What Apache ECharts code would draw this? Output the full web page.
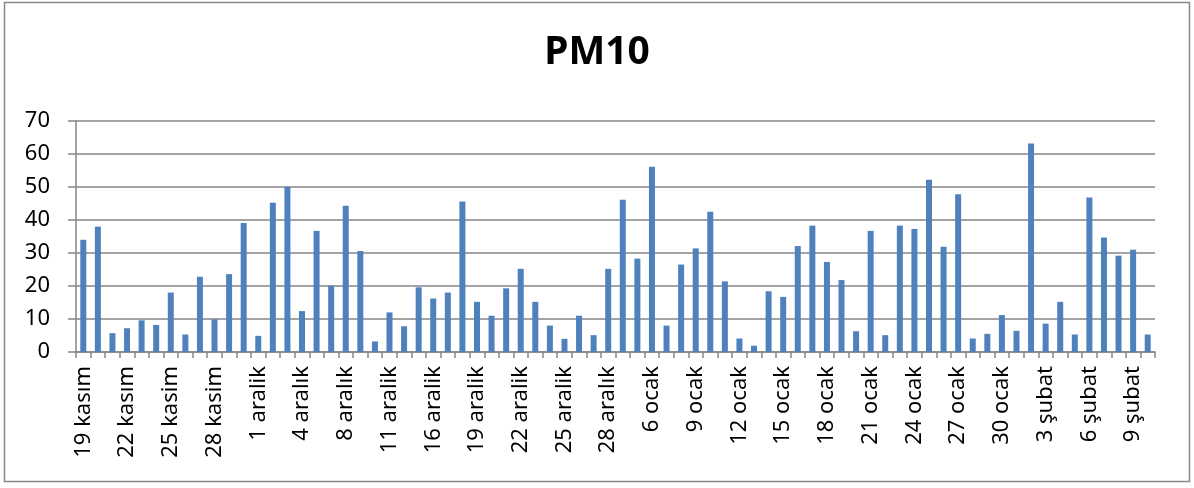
<!DOCTYPE html>
<html>
<head>
<meta charset="utf-8">
<script src="https://cdn.jsdelivr.net/npm/echarts@6/dist/echarts.min.js"></script>
<style>
    html, body { margin: 0; padding: 0; background: #fff; }
    #chart { width: 1194px; height: 488px; }
</style>
</head>
<body>
<div id="chart"></div>
<script>
var dates = [
    '19 kasım', '20 kasım', '21 kasım', '22 kasım', '23 kasım', '24 kasım',
    '25 kasim', '26 kasim', '27 kasim', '28 kasim', '29 kasim', '30 kasim',
    '1 aralik', '2 aralık', '3 aralık', '4 aralık', '5 aralık', '7 aralık',
    '8 aralık', '9 aralik', '10 aralik', '11 aralik', '12 aralik', '15 aralik',
    '16 aralik', '17 aralik', '18 aralik', '19 aralik', '20 aralik', '21 aralik',
    '22 aralik', '23 aralik', '24 aralik', '25 aralik', '26 aralik', '27 aralik',
    '28 aralık', '29 aralık', '5 ocak', '6 ocak', '7 ocak', '8 ocak',
    '9 ocak', '10 ocak', '11 ocak', '12 ocak', '13 ocak', '14 ocak',
    '15 ocak', '16 ocak', '17 ocak', '18 ocak', '19 ocak', '20 ocak',
    '21 ocak', '22 ocak', '23 ocak', '24 ocak', '25 ocak', '26 ocak',
    '27 ocak', '28 ocak', '29 ocak', '30 ocak', '31 ocak', '2 şubat',
    '3 şubat', '4 şubat', '5 şubat', '6 şubat', '7 şubat', '8 şubat',
    '9 şubat', '10 şubat'
];
var pm10 = [
    34.0, 38.0, 5.7, 7.2, 9.6, 8.2, 18.0, 5.3, 22.8, 9.9,
    23.6, 39.1, 4.9, 45.2, 50.1, 12.4, 36.7, 20.1, 44.3, 30.6,
    3.2, 12.0, 7.8, 19.6, 16.2, 18.0, 45.6, 15.2, 11.0, 19.3,
    25.2, 15.2, 8.0, 4.0, 11.0, 5.1, 25.2, 46.1, 28.3, 56.1,
    8.0, 26.5, 31.4, 42.5, 21.4, 4.1, 1.9, 18.4, 16.7, 32.1,
    38.3, 27.3, 21.8, 6.3, 36.7, 5.1, 38.3, 37.3, 52.2, 31.9,
    47.8, 4.1, 5.5, 11.2, 6.4, 63.2, 8.6, 15.2, 5.3, 46.8,
    34.7, 29.2, 31.0, 5.3
];
var yTicks = { min: 0, max: 70, interval: 10 };

var chart = echarts.init(document.getElementById('chart'));
var font = '"Noto Sans", "Liberation Sans", sans-serif';
var option = {
    backgroundColor: '#fff',
    animation: false,
    title: {
        text: 'PM10',
        left: 'center',
        top: 28,
        textStyle: { fontFamily: font, fontSize: 39, fontWeight: 'bold', color: '#000' }
    },
    graphic: [{
        type: 'rect',
        shape: { x: 4.5, y: 2.5, width: 1185, height: 479 },
        style: { fill: 'none', stroke: '#898989', lineWidth: 1.5 },
        silent: true
    }],
    grid: { left: 76, right: 39, top: 121, bottom: 136 },
    xAxis: {
        type: 'category',
        data: dates,
        boundaryGap: true,
        axisLine: { lineStyle: { color: '#868686', width: 1.5 } },
        axisTick: { show: true, interval: 0, length: 6, lineStyle: { color: '#868686', width: 1.5 } },
        axisLabel: {
            interval: 2,
            rotate: 90,
            margin: 14,
            color: '#000',
            fontFamily: font,
            fontSize: 22
        }
    },
    yAxis: {
        type: 'value',
        min: yTicks.min,
        max: yTicks.max,
        interval: yTicks.interval,
        axisLine: { show: true, lineStyle: { color: '#868686', width: 1.5 } },
        axisTick: { show: true, length: 8, lineStyle: { color: '#868686', width: 1.5 } },
        axisLabel: { margin: 26, color: '#000', fontFamily: font, fontSize: 22 },
        splitLine: { lineStyle: { color: '#868686', width: 1.5 } }
    },
    series: [{
        type: 'bar',
        data: pm10,
        barWidth: 6,
        itemStyle: { color: '#4F81BD' }
    }]
};
chart.setOption(option);
</script>
</body>
</html>
